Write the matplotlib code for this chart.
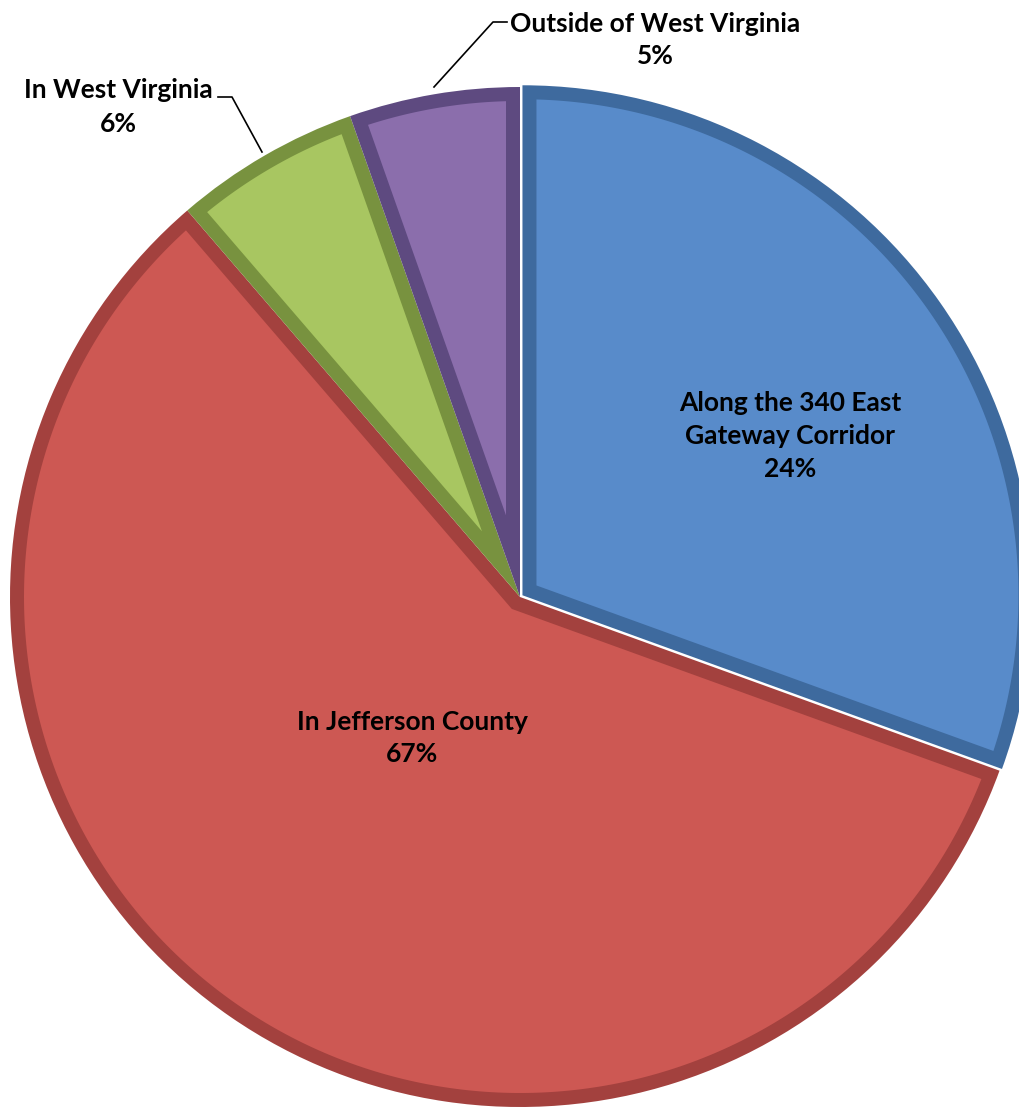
import numpy as np
import matplotlib.pyplot as plt
from matplotlib.patches import Polygon

# slice shares as drawn in the picture, and the percent text printed on it
names = ['Along the 340 East\nGateway Corridor', 'In Jefferson County',
         'In West Virginia', 'Outside of West Virginia']
shares = [30.5, 58.1, 5.9, 5.4]
pct_text = ['24%', '67%', '6%', '5%']
face = ['#588bca', '#cd5853', '#a8c661', '#8b6eac']
rim = ['#3e6a9e', '#a3413e', '#78923f', '#5e4a80']

W, H = 1020, 1107
fig = plt.figure(figsize=(W / 100, H / 100), dpi=100)
ax = fig.add_axes([0, 0, 1, 1])

wedges, _ = ax.pie(shares, startangle=90, counterclock=False, colors=rim,
                   radius=510, center=(520, H - 597), explode=[3, 0, 0, 0])


def inset(w, d):
    cx, cy = w.center
    t1, t2 = np.radians(w.theta1), np.radians(w.theta2)
    R = w.r - d
    a = np.arcsin(d / R)
    th = np.linspace(t1 + a, t2 - a, 300)
    pts = list(zip(cx + R * np.cos(th), cy + R * np.sin(th)))
    half = (t2 - t1) / 2
    dist = d / np.sin(half)
    pts.append((cx + dist * np.cos(t1 + half), cy + dist * np.sin(t1 + half)))
    return pts


for w, c in zip(wedges, face):
    ax.add_patch(Polygon(inset(w, 14), closed=True, facecolor=c, edgecolor='none'))

font = dict(family=['Lato', 'DejaVu Sans'], fontweight='bold', fontsize=19,
            ha='center', va='center', linespacing=1.45)
ax.text(790, H - 436, names[0] + '\n' + pct_text[0], **font)
ax.text(412, H - 738, names[1] + '\n' + pct_text[1], **font)
ax.text(118, H - 107, names[2] + '\n' + pct_text[2], **font)
ax.text(655, H - 40, names[3] + '\n' + pct_text[3], **font)

ax.plot([218, 232, 262], [H - 97, H - 97, H - 152], color='black', lw=1.2)
ax.plot([507, 493, 434], [H - 22, H - 22, H - 87], color='black', lw=1.2)

ax.set_xlim(0, W)
ax.set_ylim(0, H)
ax.set_aspect('auto')
ax.axis('off')
fig.savefig('out.png', dpi=100, facecolor='white')
